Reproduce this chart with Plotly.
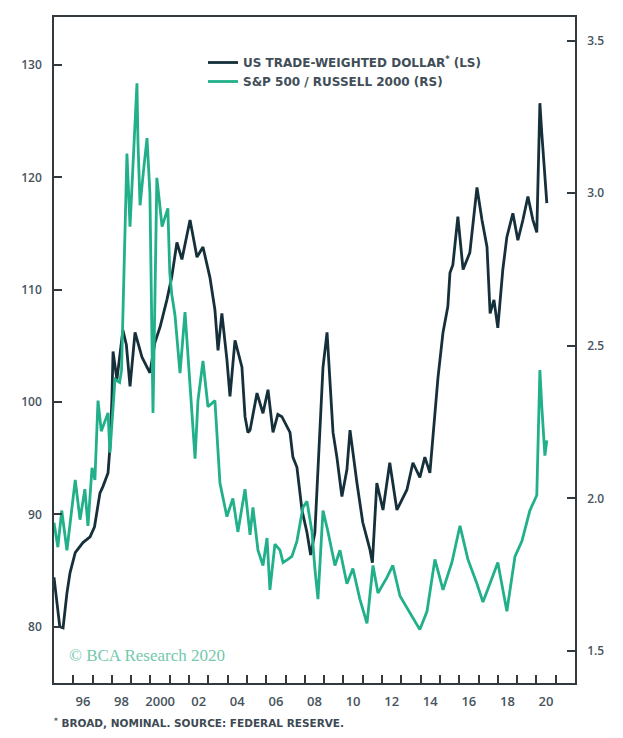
import plotly.graph_objects as go

# ---- data ----
usd_years = [1995.0, 1995.15, 1995.3, 1995.47, 1995.67, 1995.83, 1996.1, 1996.5, 1996.87, 1997.1,
             1997.38, 1997.54, 1997.8, 1997.9, 1998.0, 1998.06, 1998.26, 1998.57, 1998.75, 1998.94,
             1999.2, 1999.56, 1999.97, 2000.23, 2000.5, 2000.85, 2001.1, 2001.37, 2001.63, 2002.05,
             2002.41, 2002.72, 2003.08, 2003.34, 2003.5, 2003.7, 2003.96, 2004.12, 2004.38, 2004.74,
             2004.9, 2005.05, 2005.16, 2005.52, 2005.83, 2006.09, 2006.35, 2006.6, 2006.81, 2007.23,
             2007.38, 2007.59, 2007.85, 2008.11, 2008.3, 2008.52, 2008.78, 2008.94, 2009.15, 2009.3,
             2009.46, 2009.66, 2009.92, 2010.18, 2010.34, 2010.7, 2011.0, 2011.37, 2011.5, 2011.73,
             2012.05, 2012.4, 2012.77, 2013.29, 2013.6, 2013.96, 2014.22, 2014.48, 2014.64, 2014.9,
             2015.16, 2015.41, 2015.52, 2015.67, 2015.93, 2016.2, 2016.55, 2016.92, 2017.18, 2017.44,
             2017.6, 2017.8, 2018.0, 2018.26, 2018.47, 2018.78, 2019.04, 2019.3, 2019.56, 2019.82,
             2020.02, 2020.18, 2020.28, 2020.44, 2020.54]
usd_values = [84.4, 82.4, 80.0, 79.9, 83.0, 84.8, 86.6, 87.5, 88.0, 88.9,
              91.9, 92.5, 93.7, 96.0, 100.2, 104.5, 102.0, 106.4, 105.1, 101.4,
              106.2, 104.0, 102.6, 105.3, 106.7, 109.1, 111.1, 114.2, 112.7, 116.2,
              112.9, 113.8, 111.1, 108.2, 104.6, 107.9, 103.8, 100.5, 105.5, 103.1,
              98.7, 97.3, 97.5, 100.8, 99.0, 101.1, 97.3, 98.9, 98.7, 97.3,
              95.1, 94.2, 90.4, 88.4, 86.4, 88.4, 97.1, 103.1, 106.2, 101.4,
              97.3, 95.1, 91.6, 94.0, 97.5, 92.8, 89.3, 86.9, 85.7, 92.8,
              90.4, 94.6, 90.4, 92.2, 94.6, 93.3, 95.1, 93.7, 96.9, 102.2,
              106.2, 108.5, 111.5, 112.2, 116.5, 111.8, 113.3, 119.1, 116.2, 113.8,
              107.9, 109.1, 106.6, 111.8, 114.7, 116.8, 114.4, 116.2, 118.3, 116.2,
              115.1, 126.6, 123.9, 120.4, 117.7]

ratio_years = [1995.0, 1995.2, 1995.4, 1995.67, 1996.1, 1996.35, 1996.6, 1996.76, 1996.97, 1997.12,
               1997.28, 1997.45, 1997.8, 1997.9, 1998.16, 1998.4, 1998.5, 1998.68, 1998.78, 1998.94,
               1999.1, 1999.3, 1999.35, 1999.46, 1999.65, 1999.82, 1999.97, 2000.13, 2000.23, 2000.33,
               2000.45, 2000.6, 2000.9, 2001.0, 2001.1, 2001.27, 2001.53, 2001.79, 2002.05, 2002.31,
               2002.46, 2002.72, 2002.98, 2003.34, 2003.6, 2003.96, 2004.27, 2004.53, 2004.9, 2005.16,
               2005.31, 2005.57, 2005.83, 2006.04, 2006.19, 2006.45, 2006.71, 2006.87, 2007.12, 2007.33,
               2007.59, 2007.9, 2008.11, 2008.37, 2008.52, 2008.68, 2008.94, 2009.2, 2009.56, 2009.82,
               2010.18, 2010.49, 2010.85, 2011.22, 2011.53, 2011.79, 2012.25, 2012.56, 2012.93, 2013.29,
               2013.6, 2013.96, 2014.33, 2014.74, 2015.16, 2015.62, 2016.04, 2016.45, 2016.92, 2017.23,
               2017.59, 2018.0, 2018.47, 2018.89, 2019.25, 2019.66, 2020.02, 2020.18, 2020.28, 2020.44,
               2020.54]
ratio_values = [1.92, 1.84, 1.96, 1.83, 2.06, 1.93, 2.03, 1.91, 2.10, 2.06,
                2.32, 2.22, 2.28, 2.15, 2.39, 2.38, 2.42, 2.84, 3.13, 2.89,
                3.08, 3.36, 3.17, 2.96, 3.08, 3.18, 3.00, 2.28, 2.65, 3.05,
                2.98, 2.89, 2.95, 2.74, 2.67, 2.60, 2.41, 2.61, 2.37, 2.13,
                2.32, 2.45, 2.30, 2.32, 2.05, 1.94, 2.00, 1.89, 2.03, 1.88,
                1.97, 1.83, 1.78, 1.87, 1.70, 1.85, 1.83, 1.79, 1.80, 1.81,
                1.86, 1.97, 1.99, 1.89, 1.77, 1.67, 1.96, 1.89, 1.78, 1.83,
                1.72, 1.77, 1.67, 1.59, 1.78, 1.69, 1.74, 1.78, 1.68, 1.64,
                1.61, 1.57, 1.63, 1.80, 1.70, 1.79, 1.91, 1.80, 1.72, 1.66,
                1.72, 1.79, 1.63, 1.81, 1.86, 1.96, 2.01, 2.42, 2.30, 2.14,
                2.19]

left_ticks = [80, 90, 100, 110, 120, 130]
right_ticks = [1.5, 2.0, 2.5, 3.0, 3.5]
right_tick_text = ["1.5", "2.0", "2.5", "3.0", "3.5"]
year_ticks = list(range(1996, 2022))
label_years = [1996, 1998, 2000, 2002, 2004, 2006, 2008, 2010, 2012, 2014, 2016, 2018, 2020]
label_text = ["96", "98", "2000", "02", "04", "06", "08", "10", "12", "14", "16", "18", "20"]

DARK = "#16303b"
GREEN = "#21b089"
AXIS = "#333a3f"
TXT = "#47545e"

W, H = 623, 738
L, R, T, B = 54, 575, 17, 683

fig = go.Figure()
fig.add_trace(go.Scatter(x=ratio_years, y=ratio_values, mode="lines", yaxis="y2",
                         name="S&P 500 / RUSSELL 2000 (RS)",
                         line=dict(color=GREEN, width=2.8)))
fig.add_trace(go.Scatter(x=usd_years, y=usd_values, mode="lines", yaxis="y",
                         name="US TRADE-WEIGHTED DOLLAR<sup>*</sup> (LS)",
                         line=dict(color=DARK, width=2.8)))
# helper trace so the label axis renders
fig.add_trace(go.Scatter(x=[1995], y=[None], xaxis="x2", yaxis="y", showlegend=False,
                         hoverinfo="skip", mode="lines"))

tickfont = dict(family="Open Sans", size=12, color=TXT, weight=600)
xtickfont = dict(family="Open Sans", size=13, color=TXT, weight=600)

fig.update_layout(
    width=W, height=H,
    margin=dict(l=L, r=W - R, t=T, b=H - B, pad=0),
    paper_bgcolor="white", plot_bgcolor="white",
    showlegend=True,
    legend=dict(x=(203 - L) / (R - L), xanchor="left", y=(B - 48) / (B - T), yanchor="top",
                traceorder="reversed", bgcolor="rgba(0,0,0,0)",
                font=dict(family="DejaVu Sans", size=12, color="#414e58", weight="bold"),
                itemwidth=30, tracegroupgap=0),
    xaxis=dict(range=[1995, 2022], tickmode="array", tickvals=year_ticks,
               ticks="inside", ticklen=8, tickwidth=1.6, tickcolor=AXIS,
               showticklabels=False, showgrid=False, zeroline=False,
               showline=True, linecolor=AXIS, linewidth=1.6, mirror=True),
    xaxis2=dict(range=[1995, 2022], overlaying="x", side="bottom", tickmode="array",
                tickvals=[y + 0.5 for y in label_years], ticktext=label_text,
                ticks="", showline=False, showgrid=False, zeroline=False,
                tickfont=xtickfont, ticklabelstandoff=9),
    yaxis=dict(range=[75.0, 134.27], tickmode="array", tickvals=left_ticks,
               ticks="inside", ticklen=8, tickwidth=1.6, tickcolor=AXIS,
               showgrid=False, zeroline=False, showline=True, linecolor=AXIS, linewidth=1.6,
               tickfont=tickfont, ticklabelstandoff=8),
    yaxis2=dict(range=[1.395, 3.577], overlaying="y", side="right", tickmode="array",
                tickvals=right_ticks, ticktext=right_tick_text,
                ticks="inside", ticklen=8, tickwidth=1.6, tickcolor=AXIS,
                showgrid=False, zeroline=False, showline=True, linecolor=AXIS, linewidth=1.6,
                tickfont=tickfont, ticklabelstandoff=8),
    annotations=[
        dict(text="© BCA Research 2020", xref="paper", yref="paper",
             x=(67 - L) / (R - L), y=(B - 655) / (B - T), xanchor="left", yanchor="middle",
             showarrow=False, font=dict(family="Liberation Serif", size=17, color="#72c9ab")),
        dict(text="<sup>*</sup> BROAD, NOMINAL. SOURCE: FEDERAL RESERVE.", xref="paper", yref="paper",
             x=(52 - L) / (R - L), y=(B - 722) / (B - T), xanchor="left", yanchor="middle",
             showarrow=False, font=dict(family="DejaVu Sans", size=10.5, color="#3e4a53", weight="bold")),
    ],
)

fig.write_html("out.html")
